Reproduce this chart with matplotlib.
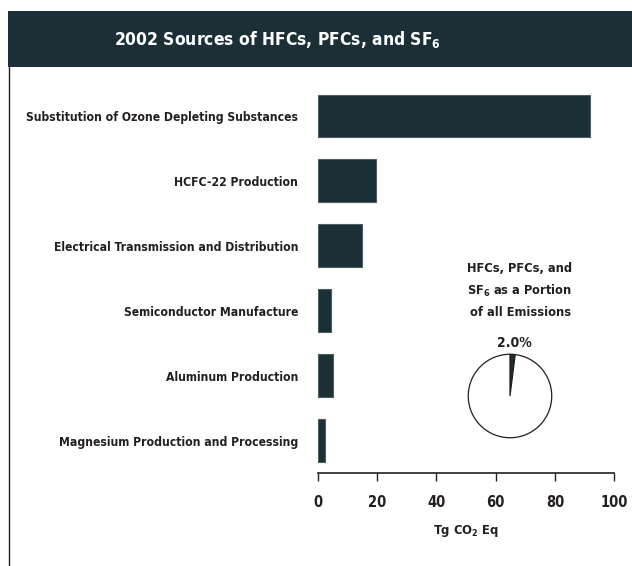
import matplotlib
matplotlib.use("Agg")
import matplotlib.pyplot as plt
from matplotlib.patches import Rectangle
from matplotlib.lines import Line2D

categories = [
    "Substitution of Ozone Depleting Substances",
    "HCFC-22 Production",
    "Electrical Transmission and Distribution",
    "Semiconductor Manufacture",
    "Aluminum Production",
    "Magnesium Production and Processing",
]
values = [91.7, 19.8, 14.8, 4.4, 5.2, 2.4]
xticks = [0, 20, 40, 60, 80, 100]
pie_share = [2.0, 98.0]

DARK = "#1a3036"
TXT = "#231f20"
plt.rcParams["font.family"] = ["DejaVu Sans"]
plt.rcParams["font.stretch"] = "condensed"
plt.rcParams["mathtext.fontset"] = "custom"
plt.rcParams["mathtext.rm"] = "DejaVu Sans:weight=bold:stretch=condensed"
plt.rcParams["mathtext.bf"] = "DejaVu Sans:weight=bold:stretch=condensed"
plt.rcParams["mathtext.it"] = "DejaVu Sans:weight=bold:stretch=condensed"

W, H = 632, 566
fig = plt.figure(figsize=(W / 100, H / 100), dpi=100)

def fx(px):
    return px / W

def fy(py):
    return 1 - py / H

# header box
fig.patches.append(Rectangle((fx(8), fy(67)), fx(632 - 8), (67 - 11) / H,
                             transform=fig.transFigure, facecolor=DARK,
                             edgecolor="none", zorder=0))
fig.text(fx(277), fy(39), r"2002 Sources of HFCs, PFCs, and SF$_\mathbf{6}$",
         color="white", fontsize=12.5, fontweight="bold", ha="center", va="center")
# left border line
fig.lines.append(Line2D([fx(8.5), fx(8.5)], [fy(67), 0], transform=fig.transFigure,
                        color=TXT, linewidth=1))

# bar axes
ax = fig.add_axes([fx(317.7), fy(473), fx(614.3 - 317.7), (473 - 83.5) / H])
ypos = list(range(len(categories)))
ax.barh(ypos, values, height=0.66, color=DARK, edgecolor="#4d5d62", linewidth=0.8)
ax.set_ylim(len(categories) - 0.5, -0.5)
ax.set_xlim(0, 100)
for s in ["top", "right", "left"]:
    ax.spines[s].set_visible(False)
ax.spines["bottom"].set_color(TXT)
ax.spines["bottom"].set_linewidth(1.2)
ax.set_yticks(ypos)
ax.set_yticklabels(categories, fontsize=8.7, fontweight="bold", color=TXT)
ax.tick_params(axis="y", length=0, pad=14)
ax.set_xticks(xticks)
ax.set_xticklabels([str(t) for t in xticks], fontsize=10.5, fontweight="bold", color=TXT)
ax.tick_params(axis="x", length=6, width=1, color=TXT, pad=10)
ax.set_xlabel(r"Tg CO$_\mathbf{2}$ Eq", fontsize=9.3, fontweight="bold", color=TXT, labelpad=9)

# pie
pax = fig.add_axes([fx(467), fy(439), fx(86), 86 / H])
pax.pie(pie_share, colors=[DARK, "white"], startangle=90, counterclock=False,
        radius=1.0, wedgeprops=dict(edgecolor=TXT, linewidth=0.9))
pax.set_xlim(-1.03, 1.03)
pax.set_ylim(-1.03, 1.03)
pax.set_aspect("equal")
fig.text(fx(520), fy(268), "HFCs, PFCs, and", fontsize=9.2, fontweight="bold",
         color=TXT, ha="center", va="center")
fig.text(fx(520), fy(291), r"SF$_\mathbf{6}$ as a Portion", fontsize=9.2, fontweight="bold",
         color=TXT, ha="center", va="center")
fig.text(fx(521), fy(313), "of all Emissions", fontsize=9.2, fontweight="bold",
         color=TXT, ha="center", va="center")
fig.text(fx(514), fy(343), f"{pie_share[0]:.1f}%", fontsize=10, fontweight="bold",
         color=TXT, ha="center", va="center")

fig.savefig("out.png", dpi=100)
